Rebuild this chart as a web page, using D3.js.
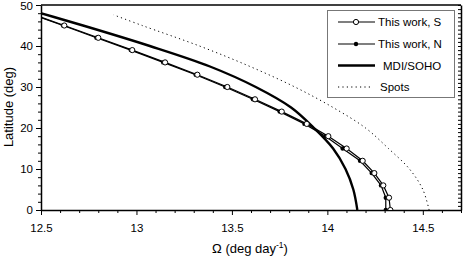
<!DOCTYPE html>
<html><head><meta charset="utf-8">
<script src="https://cdn.jsdelivr.net/npm/d3@7/dist/d3.min.js"></script>
<style>body{margin:0;background:#fff;} text{font-family:"Liberation Sans",Arial,sans-serif;}</style>
</head><body><svg id="c" width="463" height="259"></svg>
<script>
// Data
const latS = [0,3,6,9,12,15,18,21,24,27,30,33,36,39,42,45,48];
const omegaS = [14.33,14.323,14.293,14.246,14.185,14.101,14.005,13.892,13.761,13.621,13.476,13.319,13.15,12.978,12.80,12.622,12.44];
const latN = [0,3,6,9,12,15,18,21,24,27,30,33,36,39,42,45,48];
const omegaN = [14.306,14.306,14.281,14.232,14.171,14.08,13.99,13.88,13.75,13.61,13.465,13.31,13.14,12.97,12.79,12.615,12.435];
const latMDI = [0,5,10,15,20,25,30,35,40,45,50];
const omegaMDI = [14.157,14.136,14.095,14.03,13.93,13.81,13.625,13.385,13.07,12.72,12.35];
const latSpots = [0,5,10,15,20,25,30,35,40,45,47.6];
const omegaSpots = [14.533,14.50,14.43,14.32,14.20,14.03,13.83,13.595,13.33,13.03,12.88];
const xTicks = [12.5,13,13.5,14,14.5];
const yTicks = [0,10,20,30,40,50];
const legendLabels = ["This work, S","This work, N","MDI/SOHO","Spots"];

const svg = d3.select("#c");
const x = d3.scaleLinear().domain([12.5,14.7]).range([41,461]);
const y = d3.scaleLinear().domain([0,50]).range([210,5]);

const defs = svg.append("defs");
defs.append("clipPath").attr("id","clip").append("rect")
  .attr("x",41).attr("y",5).attr("width",420).attr("height",205);

// X axis
const xMinor = d3.range(125,148).map(d=>d/10).filter(d=>!xTicks.some(t=>Math.abs(t-d)<1e-6));
const gx = svg.append("g").attr("transform","translate(0,210)");
gx.call(d3.axisBottom(x).tickValues(xTicks).tickFormat(d=>String(d)).tickSize(5).tickSizeOuter(0));
gx.append("g").call(d3.axisBottom(x).tickValues(xMinor).tickFormat("").tickSize(3).tickSizeOuter(0)).select(".domain").remove();
gx.selectAll("text").attr("font-size",11.5).attr("y",22).attr("dy",0).attr("fill","#000");

// Y axis
const yMinor = d3.range(0,51,2).filter(d=>d%10!==0);
const gy = svg.append("g").attr("transform","translate(41,0)");
gy.call(d3.axisLeft(y).tickValues(yTicks).tickSize(5).tickSizeOuter(0));
gy.append("g").call(d3.axisLeft(y).tickValues(yMinor).tickFormat("").tickSize(3).tickSizeOuter(0)).select(".domain").remove();
gy.selectAll("text").attr("font-size",11.5).attr("x",-8).attr("fill","#000");
gy.selectAll(".tick text").filter(d=>d===50).attr("dy","0.42em");
svg.selectAll(".domain").attr("stroke-width",1.5);

// Right axis (inner ticks every 1 deg)
const gr = svg.append("g").attr("transform","translate(461,0)");
gr.call(d3.axisLeft(y).tickValues(d3.range(0,51,1)).tickFormat("").tickSize(3).tickSizeOuter(0));
gr.select(".domain").attr("stroke-width",1.5);
// Top line
svg.append("line").attr("x1",41).attr("x2",461).attr("y1",5).attr("y2",5).attr("stroke","#000").attr("stroke-width",1.5);

// Axis titles
svg.append("text").attr("transform","translate(13,107) rotate(-90)").attr("text-anchor","middle")
  .attr("font-size",13).text("Latitude (deg)");
const xt = svg.append("text").attr("x",250).attr("y",253).attr("text-anchor","middle").attr("font-size",13);
xt.append("tspan").text("\u03A9 (deg day");
xt.append("tspan").attr("font-size",8.5).attr("dy",-5).text("-1");
xt.append("tspan").attr("dy",5).text(")");

const plot = svg.append("g").attr("clip-path","url(#clip)");
const lineSmooth = d3.line().x(d=>x(d[0])).y(d=>y(d[1])).curve(d3.curveCatmullRom.alpha(0.5));
const lineStraight = d3.line().x(d=>x(d[0])).y(d=>y(d[1]));

const dS = latS.map((l,i)=>[omegaS[i],l]);
const dN = latN.map((l,i)=>[omegaN[i],l]);
const dM = latMDI.map((l,i)=>[omegaMDI[i],l]);
const dSp = latSpots.map((l,i)=>[omegaSpots[i],l]);

plot.append("path").attr("d",lineSmooth(dSp)).attr("fill","none").attr("stroke","#000").attr("stroke-width",1).attr("stroke-dasharray","1.2,3.2");
plot.append("path").attr("d",lineSmooth(dM)).attr("fill","none").attr("stroke","#000").attr("stroke-width",2.4);
plot.append("path").attr("d",lineStraight(dN)).attr("fill","none").attr("stroke","#000").attr("stroke-width",1.2);
plot.append("path").attr("d",lineStraight(dS)).attr("fill","none").attr("stroke","#000").attr("stroke-width",1.2);
plot.selectAll(".pn").data(dN).join("circle").attr("cx",d=>x(d[0])).attr("cy",d=>y(d[1])).attr("r",2.2).attr("fill","#000");
plot.selectAll(".ps").data(dS).join("circle").attr("cx",d=>x(d[0])).attr("cy",d=>y(d[1])).attr("r",2.6).attr("fill","#fff").attr("stroke","#000").attr("stroke-width",1);

// Legend
const lg = svg.append("g");
lg.append("rect").attr("x",327.5).attr("y",10.5).attr("width",127).attr("height",87).attr("fill","#fff").attr("stroke","#777").attr("stroke-width",1);
const rowsY = [22,44,65.5,87];
const textX = [378,378,383,380];
legendLabels.forEach((lab,i)=>{
  const yy = rowsY[i];
  const ln = lg.append("line").attr("x1",338).attr("x2",375).attr("y1",yy).attr("y2",yy).attr("stroke","#000");
  if(i<2) ln.attr("stroke-width",1.2);
  if(i===2) ln.attr("stroke-width",2.4);
  if(i===3) ln.attr("x2",372).attr("stroke-width",1).attr("stroke-dasharray","1.2,3.2");
  if(i===0) lg.append("circle").attr("cx",356).attr("cy",yy).attr("r",2.6).attr("fill","#fff").attr("stroke","#000");
  if(i===1) lg.append("circle").attr("cx",356).attr("cy",yy).attr("r",2.2).attr("fill","#000");
  lg.append("text").attr("x",textX[i]).attr("y",yy).attr("dy","0.35em").attr("font-size",11.5).text(lab);
});
</script></body></html>
